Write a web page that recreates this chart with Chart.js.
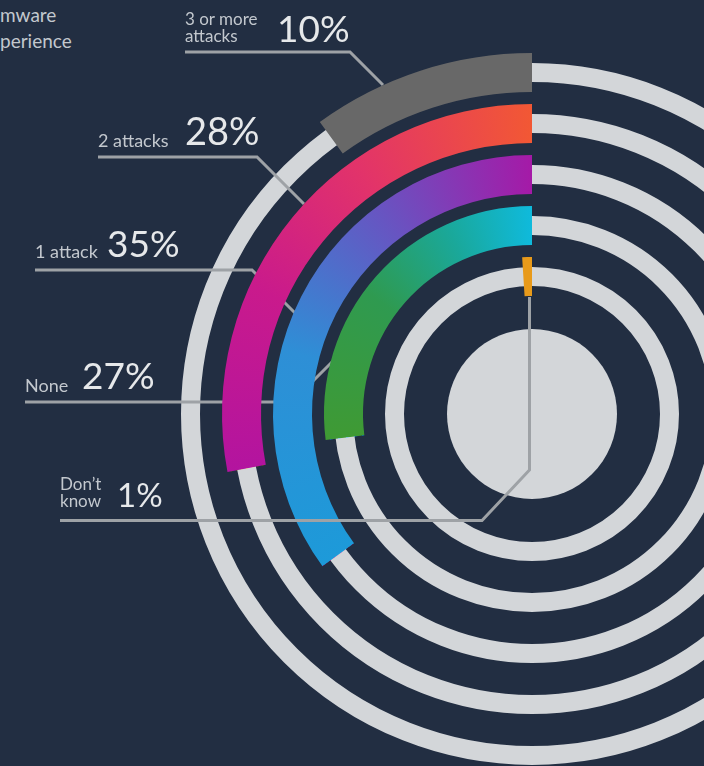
<!DOCTYPE html>
<html>
<head>
<meta charset="utf-8">
<script src="https://cdn.jsdelivr.net/npm/chart.js@4.4.1/dist/chart.umd.min.js"></script>
<style>
  html, body { margin: 0; padding: 0; width: 704px; height: 766px; overflow: hidden; background: #222e42; }
  #wrap { position: relative; width: 704px; height: 766px; overflow: hidden; }
  #ring { position: absolute; left: 0; top: 0; }
  .t { position: absolute; font-family: Lato, "Open Sans", sans-serif; white-space: pre; line-height: 1; }
  .cat { color: #c3c8ce; }
  .pct { color: #e6e8ea; }
</style>
</head>
<body>
<div id="wrap">
  <div class="t cat" style="left:0;top:5px;font-size:19px;">mware</div>
  <div class="t cat" style="left:0;top:31px;font-size:19px;">perience</div>
  <canvas id="ring" width="1064" height="828"></canvas>
</div>
<script>
// Ransomware attacks experienced
const categories = ["3 or more\nattacks", "2 attacks", "1 attack", "None", "Don\u2019t\nknow"];
const shares = [10, 28, 35, 27, 1];

// gradient stops per ring (position along arc: 0 = arc end, 1 = 12 o'clock)
const ringColors = [
  [[0, "#686868"], [1, "#686868"]],
  [[0, "#b3149f"], [0.35, "#c91a8c"], [0.65, "#e2336a"], [1, "#f25834"]],
  [[0, "#1d9ad9"], [0.4, "#2e8fd6"], [0.7, "#6656c2"], [1, "#a51aa7"]],
  [[0, "#3f9a34"], [0.45, "#2f9a50"], [0.75, "#1aa89a"], [1, "#0fbadc"]],
  [[0, "#e89a1a"], [1, "#e89a1a"]],
];

const trackColor = "#d3d6d9";
const lineColor = "#9ea2a6";

// label placement (page px)
const labelPos = [
  { x: 185, top: 10, fs: 17, px: 277, ptop: 9, pfs: 37 },
  { x: 98, top: 131, fs: 18, px: 185, ptop: 111, pfs: 38 },
  { x: 35, top: 242, fs: 18, px: 107, ptop: 224, pfs: 37 },
  { x: 25, top: 376, fs: 18, px: 82, ptop: 356, pfs: 37 },
  { x: 60, top: 475, fs: 17, px: 117, ptop: 478, pfs: 33 },
];

// leader lines, last one drawn above the arcs
const leaders = [
  [[185, 52], [350, 52], [383, 85]],
  [[98, 157], [257, 157], [304, 204]],
  [[35, 270], [252, 270], [296, 314]],
  [[25, 402], [292, 402], [334, 360]],
  [[60, 520.5], [482, 520.5], [529.5, 470], [529.5, 297]],
];

const wrap = document.getElementById("wrap");
categories.forEach((c, i) => {
  const p = labelPos[i];
  const d = document.createElement("div");
  d.className = "t cat";
  d.style.cssText = `left:${p.x}px;top:${p.top}px;font-size:${p.fs}px;`;
  d.textContent = c;
  wrap.appendChild(d);
  const v = document.createElement("div");
  v.className = "t pct";
  v.style.cssText = `left:${p.px}px;top:${p.ptop}px;font-size:${p.pfs}px;`;
  v.textContent = `${shares[i]}%`;
  wrap.appendChild(v);
});

// first slice is the empty part of the ring, second is the share
const arcFill = (i) => (ctx) => {
  if (ctx.dataIndex === 0) return "rgba(0,0,0,0)";
  const chart = ctx.chart;
  const area = chart.chartArea;
  if (!area) return ringColors[i][0][1];
  const cx = (area.left + area.right) / 2;
  const cy = (area.top + area.bottom) / 2;
  const frac = shares[i] / 100;
  const g = chart.ctx.createConicGradient(-Math.PI / 2 - frac * Math.PI * 2, cx, cy);
  ringColors[i].forEach(([pos, col]) => g.addColorStop(pos * frac, col));
  g.addColorStop(Math.min(1, frac + 0.001), ringColors[i][ringColors[i].length - 1][1]);
  return g;
};

// rings: coloured band + spacer between bands
const BAND = 39, GAP = 12;
const datasets = [];
const colorIdx = [];
categories.forEach((c, i) => {
  colorIdx.push(datasets.length);
  datasets.push({
    label: c,
    data: [100 - shares[i], shares[i]],
    backgroundColor: arcFill(i),
    weight: BAND,
  });
  if (i < categories.length - 1) {
    datasets.push({ label: "", data: [1], backgroundColor: "rgba(0,0,0,0)", weight: GAP });
  }
});

const drawLeaders = (c, list) => {
  c.save();
  c.strokeStyle = lineColor;
  c.lineWidth = 3;
  c.lineJoin = "miter";
  list.forEach((pts) => {
    c.beginPath();
    pts.forEach(([x, y], k) => (k ? c.lineTo(x, y) : c.moveTo(x, y)));
    c.stroke();
  });
  c.restore();
};

const tracks = {
  id: "tracks",
  beforeDatasetsDraw(chart) {
    const c = chart.ctx;
    let a;
    c.save();
    c.strokeStyle = trackColor;
    c.lineWidth = 19;
    colorIdx.forEach((di) => {
      a = chart.getDatasetMeta(di).data[0];
      c.beginPath();
      c.arc(a.x, a.y, (a.innerRadius + a.outerRadius) / 2, 0, Math.PI * 2);
      c.stroke();
    });
    // centre disc
    c.fillStyle = trackColor;
    c.beginPath();
    c.arc(a.x, a.y, a.innerRadius - 33, 0, Math.PI * 2);
    c.fill();
    c.restore();
    drawLeaders(c, leaders.slice(0, 4));
  },
  afterDatasetsDraw(chart) {
    drawLeaders(chart.ctx, leaders.slice(4));
  },
};

new Chart(document.getElementById("ring"), {
  type: "doughnut",
  data: { labels: ["rest", "share"], datasets: datasets },
  options: {
    responsive: false,
    animation: false,
    devicePixelRatio: 1,
    events: [],
    radius: 361,
    cutout: (118 / 361) * 100 + "%",
    borderWidth: 0,
    hoverOffset: 0,
    offset: 0,
    layout: { padding: 0 },
    plugins: {
      legend: { display: false },
      tooltip: { enabled: false },
    },
  },
  plugins: [tracks],
});
</script>
</body>
</html>
